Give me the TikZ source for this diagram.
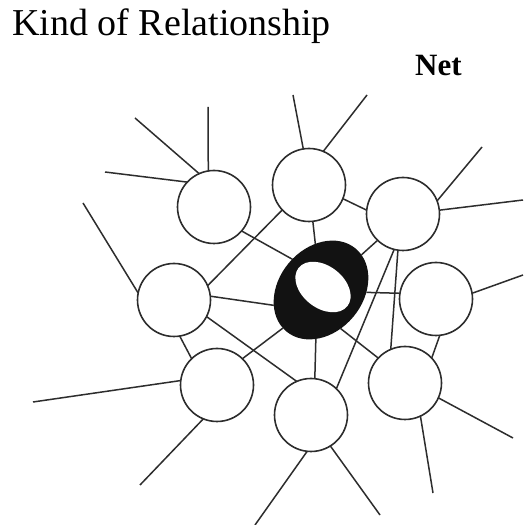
\documentclass[tikz,border=0pt]{standalone}
\usepackage{fontspec}
\setmainfont{Liberation Serif}
\usepackage{xcolor}
\usepackage{tikz}
\usetikzlibrary{shapes.geometric}
\definecolor{inkgrey}{RGB}{45,45,45}
\definecolor{ringblack}{RGB}{18,18,18}
\tikzset{
  member/.style={circle,draw=inkgrey,line width=1.6pt,fill=white,
    minimum size=73pt,inner sep=0pt,outer sep=0pt},
  hub/.style={ellipse,fill=ringblack,minimum width=108pt,
    minimum height=84pt,inner sep=0pt,outer sep=0pt},
  hole/.style={ellipse,fill=white,minimum width=62pt,
    minimum height=42pt,inner sep=0pt,outer sep=0pt},
  tie/.style={draw=inkgrey,line width=1.5pt},
  heading/.style={anchor=base west,inner sep=0pt}
}

\begin{document}
\begin{tikzpicture}[x=1pt,y=1pt]
  \useasboundingbox[fill=white] (0,0) rectangle (523,525);
  \node[heading,font=\fontsize{38}{40}\selectfont] (title) at (12,489)
  {Kind of Relationship};
  \node[heading,font=\fontsize{31}{34}\selectfont\bfseries] (net) at (415,449)
  {Net};
  % the central member and the ring of members round it
  \node[hub,rotate=50] (hub) at (321,235) {};
  \node[hole,rotate=-38] (hole) at (323,238) {};
  \node[member] (nw) at (214,318) {};
  \node[member] (n) at (309,340) {};
  \node[member] (ne) at (403,311) {};
  \node[member] (w) at (174,225) {};
  \node[member] (e) at (436,226) {};
  \node[member] (sw) at (217,140) {};
  \node[member] (s) at (311,110) {};
  \node[member] (se) at (405,142) {};
  % loose ends of the outer ties
  \coordinate (nw-a) at (135,407);
  \coordinate (nw-b) at (208,418);
  \coordinate (nw-c) at (105,353);
  \coordinate (n-a) at (293,430);
  \coordinate (n-b) at (367,430);
  \coordinate (ne-a) at (482,378);
  \coordinate (ne-b) at (523,325);
  \coordinate (w-a) at (83,322);
  \coordinate (e-a) at (523,250);
  \coordinate (sw-a) at (33,123);
  \coordinate (sw-b) at (140,40);
  \coordinate (s-a) at (255,0);
  \coordinate (s-b) at (380,10);
  \coordinate (se-a) at (513,87);
  \coordinate (se-b) at (433,32);
  % ties to the hub
  \draw[tie] (nw.-41) -- (hub.83);
  \draw[tie] (n.-84) -- (hub.47);
  \draw[tie] (ne.226) -- (hub.-9);
  \draw[tie] (w.6) -- (hub.148);
  \draw[tie] (e.171) -- (hub.-53);
  \draw[tie] (sw.46) -- (hub.175);
  \draw[tie] (s.84) -- (hub.214);
  \draw[tie] (se.137) -- (hub.247);
  % ties between members
  \draw[tie] (n.-22) -- (ne.174);
  \draw[tie] (n.223) -- (w.23);
  \draw[tie] (ne.256) -- (s.46);
  \draw[tie] (ne.262) -- (se.113);
  \draw[tie] (w.279) -- (sw.134);
  \draw[tie] (w.-27) -- (s.113);
  \draw[tie] (e.-84) -- (se.43);
  % outer ties
  \draw[tie] (nw.114) -- (nw-a);
  \draw[tie] (nw.99) -- (nw-b);
  \draw[tie] (nw.137) -- (nw-c);
  \draw[tie] (n.99) -- (n-a);
  \draw[tie] (n.67) -- (n-b);
  \draw[tie] (ne.21) -- (ne-a);
  \draw[tie] (ne.6) -- (ne-b);
  \draw[tie] (w.169) -- (w-a);
  \draw[tie] (e.9) -- (e-a);
  \draw[tie] (sw.173) -- (sw-a);
  \draw[tie] (sw.248) -- (sw-b);
  \draw[tie] (s.264) -- (s-a);
  \draw[tie] (s.302) -- (s-b);
  \draw[tie] (se.336) -- (se-a);
  \draw[tie] (se.295) -- (se-b);
\end{tikzpicture}
\end{document}
